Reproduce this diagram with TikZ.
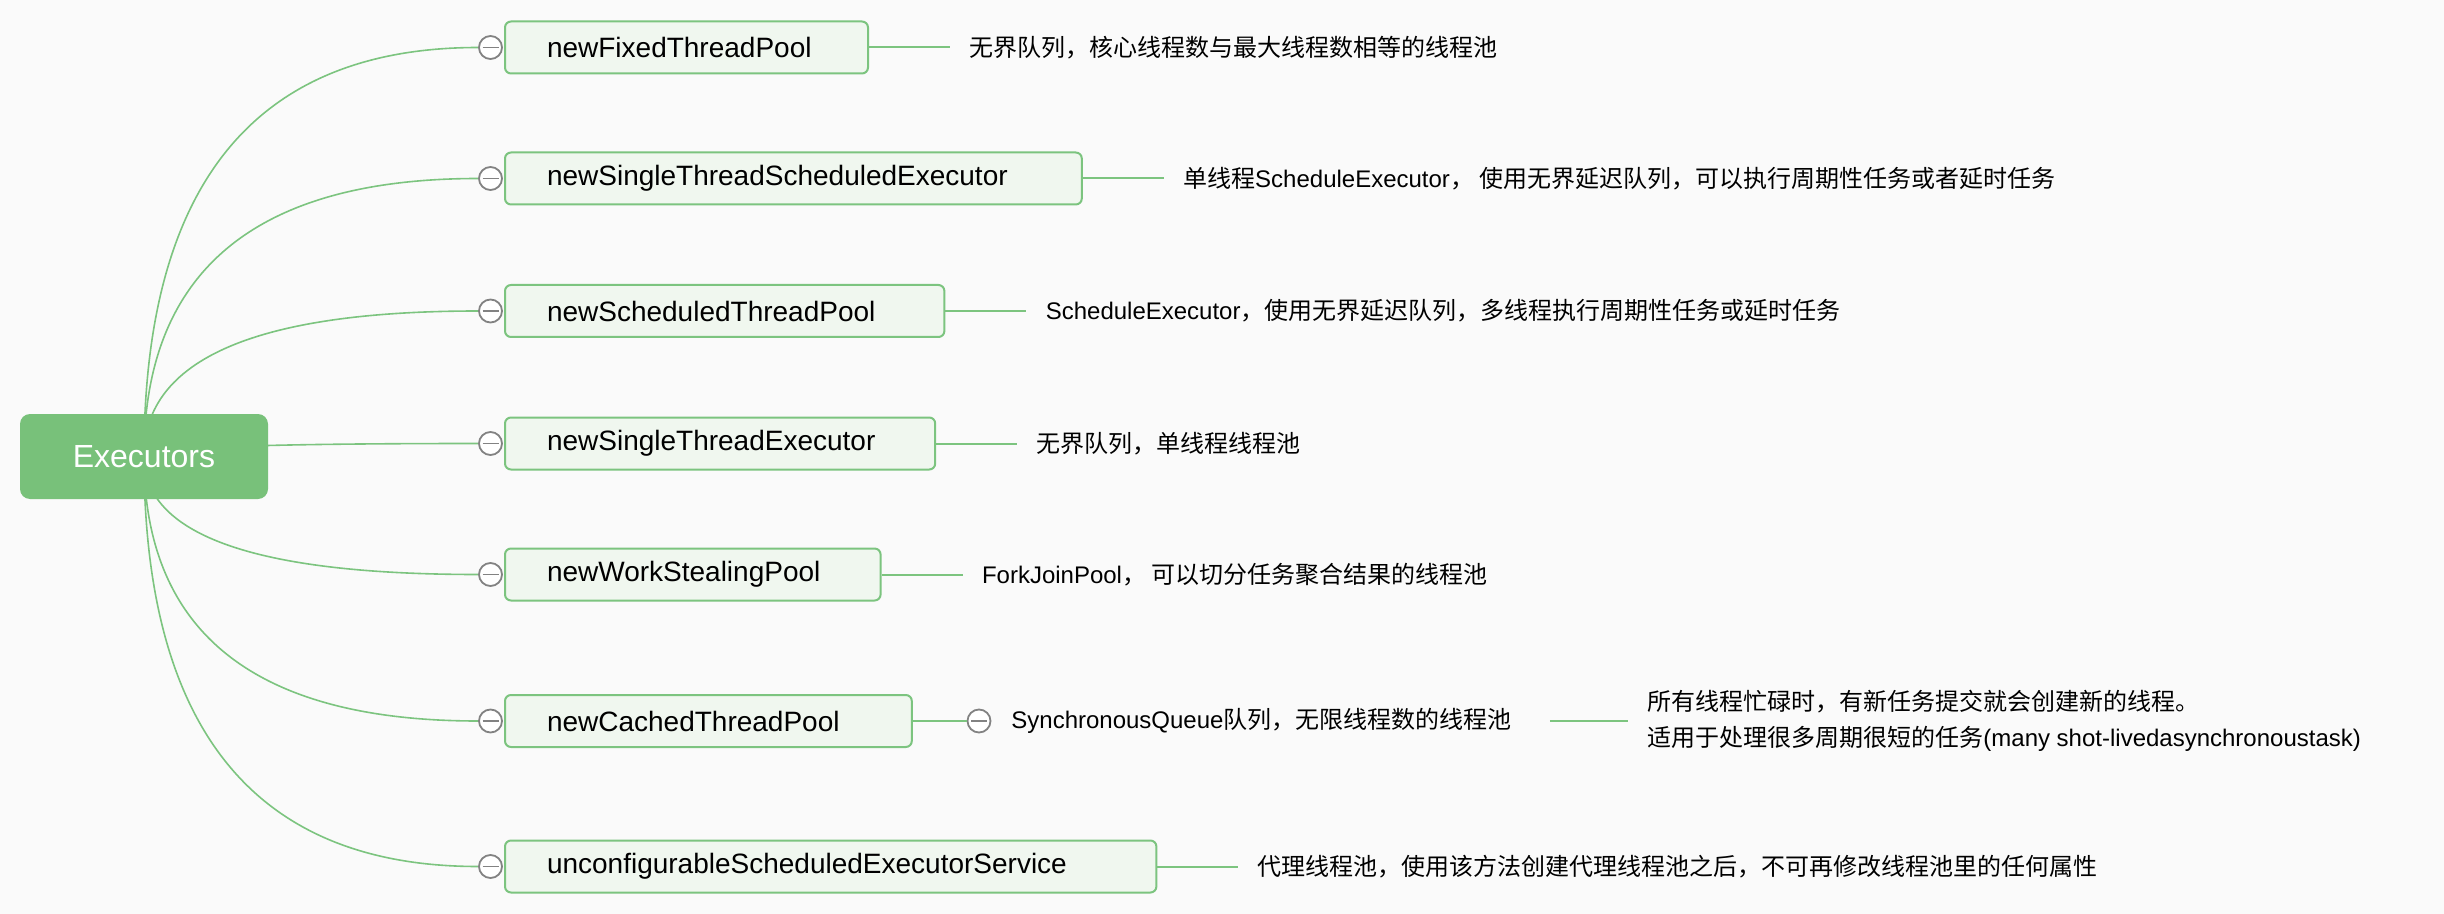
\documentclass[tikz,border=0pt]{standalone}
\usepackage{fontspec}
\setmainfont{Liberation Sans}
\newfontfamily\cjk{Noto Sans CJK SC}
\usetikzlibrary{calc,backgrounds}
\definecolor{rootgreen}{RGB}{120,193,122}
\definecolor{linegreen}{RGB}{124,196,127}
\definecolor{boxfill}{RGB}{240,247,239}
\definecolor{bgcol}{RGB}{250,250,250}
\definecolor{knobgray}{RGB}{130,130,130}
\newcommand\zhs[1]{{\cjk #1}}
\begin{document}
\begin{tikzpicture}[x=0.5pt,y=-0.5pt,
  rootbox/.style={fill=rootgreen, rounded corners=5pt, minimum width=124pt, minimum height=42.5pt, inner sep=0pt, text=white, font=\fontsize{16}{19}\selectfont},
  branchbox/.style={draw=linegreen, line width=1pt, fill=boxfill, rounded corners=3pt, anchor=west, minimum height=26pt, inner xsep=21pt, inner ysep=0pt, text width=#1, align=left, font=\fontsize{14}{17}\selectfont},
  knob/.style={circle, draw=knobgray, line width=0.9pt, fill=white, minimum size=11.5pt, inner sep=0pt, path picture={\draw[knobgray, line width=0.9pt] ([xshift=-4pt]path picture bounding box.center) -- ([xshift=4pt]path picture bounding box.center);}},
  note/.style={anchor=west, inner xsep=9.5pt, inner ysep=0pt, font=\fontsize{12}{17.75}\selectfont, align=left},
  conn/.style={draw=linegreen, line width=0.8pt},
  tie/.style={draw=linegreen, line width=1pt}
]
\path[use as bounding box] (0,0) rectangle (2444,914);

\node[rootbox] (root) at (144,456.5) {Executors};

\node[branchbox=139.5pt] (b1) at (504,47.5) {newFixedThreadPool};
\node[knob] (c1) at (490.5,47.5) {};
\node[note] (t1) at ($(b1.east)+(81,0)$) {\zhs{无界队列，核心线程数与最大线程数相等的线程池}};
\draw[tie] (b1.east) -- (t1.west);

\node[branchbox=246.4pt] (b2) at (504,178.5) {newSingleThreadScheduledExecutor};
\node[knob] (c2) at (490.5,178.5) {};
\node[note] (t2) at ($(b2.east)+(81,0)$) {\zhs{单线程}ScheduleExecutor\zhs{， 使用无界延迟队列，可以执行周期性任务或者延时任务}};
\draw[tie] (b2.east) -- (t2.west);

\node[branchbox=177.7pt] (b3) at (504,311) {newScheduledThreadPool};
\node[knob] (c3) at (490.5,311) {};
\node[note] (t3) at ($(b3.east)+(81,0)$) {ScheduleExecutor\zhs{，使用无界延迟队列，多线程执行周期性任务或延时任务}};
\draw[tie] (b3.east) -- (t3.west);

\node[branchbox=173.1pt] (b4) at (504,443.5) {newSingleThreadExecutor};
\node[knob] (c4) at (490.5,443.5) {};
\node[note] (t4) at ($(b4.east)+(81,0)$) {\zhs{无界队列，单线程线程池}};
\draw[tie] (b4.east) -- (t4.west);

\node[branchbox=145.8pt] (b5) at (504,574.5) {newWorkStealingPool};
\node[knob] (c5) at (490.5,574.5) {};
\node[note] (t5) at ($(b5.east)+(81,0)$) {ForkJoinPool\zhs{， 可以切分任务聚合结果的线程池}};
\draw[tie] (b5.east) -- (t5.west);

\node[branchbox=161.4pt] (b6) at (504,721) {newCachedThreadPool};
\node[knob] (c6) at (490.5,721) {};
\node[knob] (c6b) at (979,721) {};
\node[anchor=west, inner sep=0pt, font=\fontsize{12}{17.75}\selectfont] (sq) at (1011,721) {SynchronousQueue\zhs{队列，无限线程数的线程池}};
\node[note] (t6b) at (1628,721) {\zhs{所有线程忙碌时，有新任务提交就会创建新的线程。}\\\zhs{适用于处理很多周期很短的任务}(many shot-livedasynchronoustask)};
\draw[tie] (b6.east) -- (c6b.west);
\draw[tie] ([xshift=19pt]sq.east) -- (sq.east -| t6b.west);

\node[branchbox=283.7pt] (b7) at (504,866.5) {unconfigurableScheduledExecutorService};
\node[knob] (c7) at (490.5,866.5) {};
\node[note] (t7) at ($(b7.east)+(81,0)$) {\zhs{代理线程池，使用该方法创建代理线程池之后，不可再修改线程池里的任何属性}};
\draw[tie] (b7.east) -- (t7.west);

\begin{scope}[on background layer]
\fill[bgcol] (0,0) rectangle (2444,914);
\foreach \i in {1,...,7} {
  \draw[conn] (root.center) .. controls ($(root.center)!0.6667!(root.center |- c\i.west)$) and ($(c\i.west)!0.6667!(root.center |- c\i.west)$) .. (c\i.west);
}
\end{scope}
\end{tikzpicture}
\end{document}
